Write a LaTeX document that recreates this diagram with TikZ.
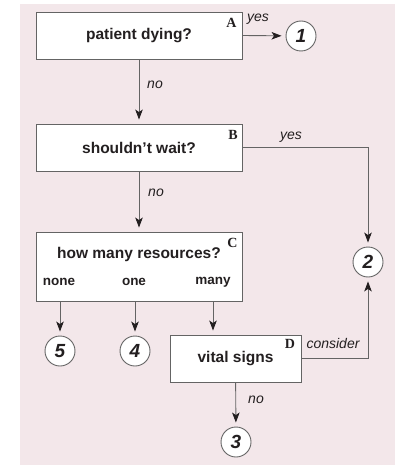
\documentclass[tikz,border=0pt]{standalone}
\usepackage{fontspec}
\setmainfont{Liberation Sans}
\newfontfamily\letterfont{Liberation Serif}
\usetikzlibrary{arrows.meta,positioning}
\definecolor{blush}{RGB}{243,231,234}
\definecolor{slate}{RGB}{100,100,100}
\definecolor{ink}{RGB}{35,31,32}

\begin{document}
\begin{tikzpicture}[x=1pt,y=-1pt,
    question/.style={draw=slate, fill=white, line width=0.9pt, minimum height=47pt, inner sep=0pt,
        font=\fontsize{15.5}{18}\selectfont\bfseries, text=ink},
    level/.style={draw=slate, fill=white, circle, line width=0.9pt, minimum size=30pt, inner sep=0pt,
        font=\fontsize{19}{22}\selectfont\bfseries\itshape, text=ink},
    option/.style={font=\fontsize{13.5}{16}\selectfont\bfseries, text=ink, inner sep=0pt},
    answer/.style={font=\fontsize{14}{16}\selectfont\itshape, text=ink, inner sep=0pt},
    corner/.style={font=\fontsize{14}{16}\selectfont\letterfont\bfseries, text=ink, inner sep=0pt},
    flow/.style={draw=slate, line width=0.9pt, -{Stealth[length=10pt,width=7.5pt,inset=2.5pt,color=ink]}, shorten >=4pt}]
    \useasboundingbox (0,0) rectangle (399,465);
    \fill[blush] (20,4) rectangle (395,465);

    % Questions
    \node[question, minimum width=206pt] (dying) at (139,35.5) {patient dying?};
    \node[question, minimum width=206pt] (wait) at (139,147.5) {shouldn't wait?};
    \node[question, minimum width=206pt, minimum height=69pt] (resources) at (139,266.5) {};
    \node[question, minimum width=131pt] (vitals) at (235.5,358.5) {vital signs};
    \node[option, font=\fontsize{15.5}{18}\selectfont\bfseries] (ask) at (139,254) {how many resources?};

    % Corner letters
    \node[corner] (la) at (231.5,23) {A};
    \node[corner] (lb) at (233,135) {B};
    \node[corner] (lc) at (232.5,243) {C};
    \node[corner] (ld) at (290,344) {D};

    % Levels
    \node[level] (lvl1) at (301,36) {1};
    \node[level] (lvl2) at (368,262) {2};
    \node[level] (lvl3) at (236,442) {3};
    \node[level] (lvl4) at (135,351) {4};
    \node[level] (lvl5) at (60,351) {5};

    % Resource counts
    \foreach \x/\t in {59/none,134/one,213/many} {
        \node[option] (count-\t) at (\x,282) {\t};
    }

    % Connectors
    \draw[flow] (dying.east) -- (lvl1);
    \draw[flow] (dying) -- (wait);
    \draw[flow] (wait) -- (resources);
    \draw[flow] (wait.east) -| (lvl2);
    \draw[flow] (vitals.east) -| (lvl2);
    \draw[flow] (lvl5.north |- resources.south) -- (lvl5);
    \draw[flow] (lvl4.north |- resources.south) -- (lvl4);
    \draw[flow] (count-many |- resources.south) -- (count-many |- vitals.north);
    \draw[flow] (vitals) -- (lvl3);

    % Answers
    \node[answer] (yesa) at (258,19) {yes};
    \node[answer] (yesb) at (291,137) {yes};
    \node[answer] (noa) at (155,85) {no};
    \node[answer] (nob) at (156,193) {no};
    \node[answer] (nod) at (256,400) {no};
    \node[answer] (consider) at (333,343) {consider};
\end{tikzpicture}
\end{document}
